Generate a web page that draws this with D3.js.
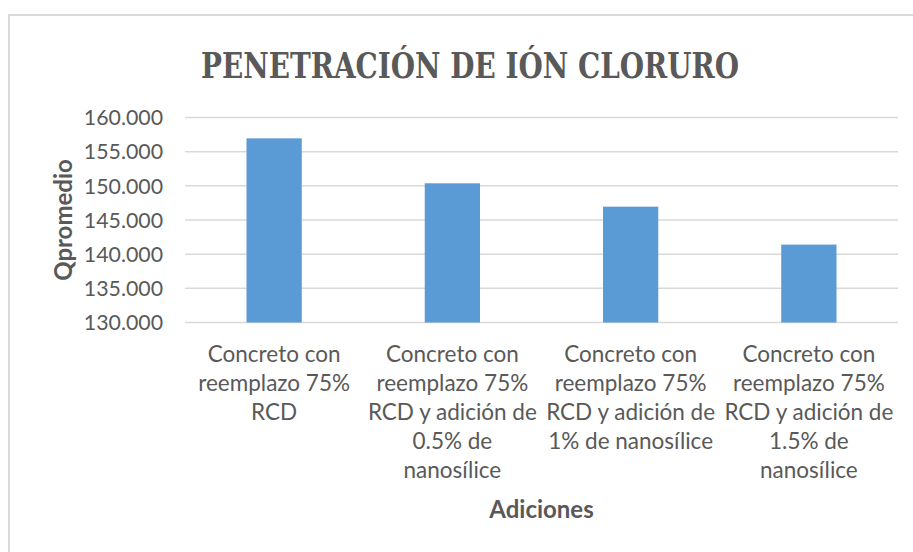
<!DOCTYPE html>
<html>
<head>
<meta charset="utf-8">
<script src="https://cdn.jsdelivr.net/npm/d3@7"></script>
<style>
  body { margin: 0; background: #fff; }
  svg { display: block; }
</style>
</head>
<body>
<div class="chart"></div>
<script>
// data
const categories = [
  ["Concreto con", "reemplazo 75%", "RCD"],
  ["Concreto con", "reemplazo 75%", "RCD y adición de", "0.5% de", "nanosílice"],
  ["Concreto con", "reemplazo 75%", "RCD y adición de", "1% de nanosílice"],
  ["Concreto con", "reemplazo 75%", "RCD y adición de", "1.5% de", "nanosílice"]
];
const values = [156.95, 150.37, 146.95, 141.4];
const yTicks = [130, 135, 140, 145, 150, 155, 160];

const title = "PENETRACIÓN DE IÓN CLORURO";
const yTitle = "Qpromedio";
const xTitle = "Adiciones";

const width = 913, height = 552;
const margin = { top: 117.5, right: 15, bottom: 229.5, left: 185 };
const font = "Lato, 'Liberation Sans', sans-serif";
const textColor = "#595959";

const svg = d3.select(".chart").append("svg")
  .attr("width", width)
  .attr("height", height);

// chart frame (right and bottom edges run off the page)
svg.append("rect")
  .attr("x", 9).attr("y", 15)
  .attr("width", width + 20).attr("height", height + 20)
  .attr("fill", "none")
  .attr("stroke", "#d9d9d9")
  .attr("stroke-width", 2);

const x = d3.scaleBand()
  .domain(d3.range(categories.length))
  .range([margin.left, width - margin.right])
  .paddingInner(0.69)
  .paddingOuter(0.345);

const y = d3.scaleLinear()
  .domain([130, 160])
  .range([height - margin.bottom, margin.top]);

// gridlines
svg.append("g")
  .selectAll("line")
  .data(yTicks)
  .join("line")
  .attr("x1", margin.left)
  .attr("x2", width - margin.right)
  .attr("y1", d => y(d))
  .attr("y2", d => y(d))
  .attr("stroke", "#d9d9d9")
  .attr("stroke-width", 1.5);

// y tick labels
const fmt = d => d3.format(".3f")(d).replace(",", "");
svg.append("g")
  .selectAll("text")
  .data(yTicks)
  .join("text")
  .attr("x", 163)
  .attr("y", d => y(d))
  .attr("dy", "0.36em")
  .attr("text-anchor", "end")
  .attr("font-family", font)
  .attr("font-size", 21.3)
  .attr("fill", textColor)
  .text(fmt);

// bars
svg.append("g")
  .selectAll("rect")
  .data(values)
  .join("rect")
  .attr("x", (d, i) => x(i))
  .attr("width", x.bandwidth())
  .attr("y", d => y(d))
  .attr("height", d => y(130) - y(d))
  .attr("fill", "#5b9bd5");

// category labels, one tspan per line
const lineHeight = 29;
svg.append("g")
  .selectAll("text")
  .data(categories)
  .join("text")
  .attr("text-anchor", "middle")
  .attr("font-family", font)
  .attr("font-size", 22.5)
  .attr("fill", textColor)
  .each(function (lines, i) {
    const cx = x(i) + x.bandwidth() / 2;
    d3.select(this).selectAll("tspan")
      .data(lines)
      .join("tspan")
      .attr("x", cx)
      .attr("y", (d, j) => 362 + j * lineHeight)
      .text(d => d);
  });

// axis titles
svg.append("text")
  .attr("x", (margin.left + width - margin.right) / 2)
  .attr("y", 518)
  .attr("text-anchor", "middle")
  .attr("font-family", font)
  .attr("font-weight", "bold")
  .attr("font-size", 24)
  .attr("fill", textColor)
  .text(xTitle);

svg.append("text")
  .attr("transform", `translate(72,${(y(130) + y(160)) / 2}) rotate(-90)`)
  .attr("text-anchor", "middle")
  .attr("font-family", font)
  .attr("font-weight", "bold")
  .attr("font-size", 24)
  .attr("fill", textColor)
  .text(yTitle);

// title
svg.append("text")
  .attr("x", 470)
  .attr("y", 78)
  .attr("text-anchor", "middle")
  .attr("font-family", "'DejaVu Serif', serif")
  .attr("font-weight", "bold")
  .attr("font-size", 36)
  .attr("textLength", 538)
  .attr("lengthAdjust", "spacingAndGlyphs")
  .attr("fill", textColor)
  .text(title);
</script>
</body>
</html>
